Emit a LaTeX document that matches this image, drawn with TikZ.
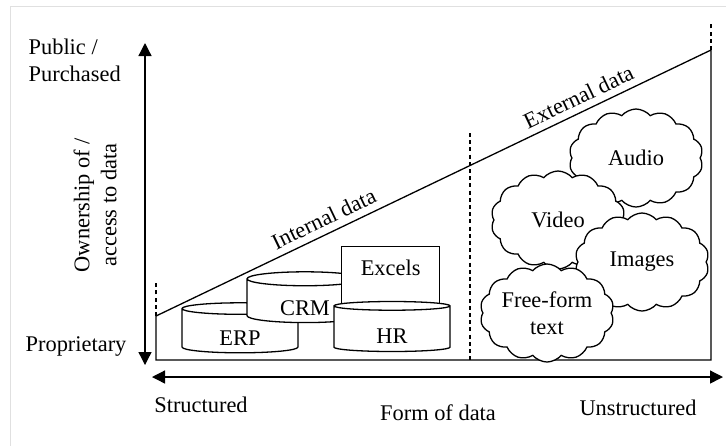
\documentclass[tikz,border=0pt]{standalone}
\usepackage{fontspec}
\setmainfont{Liberation Serif}
\usetikzlibrary{positioning,shapes,arrows.meta}

\begin{document}
\begin{tikzpicture}[
	x=0.5pt,y=-0.5pt,
	font=\fontsize{11.2}{13.5}\selectfont,
	line width=0.65pt,
	node distance=0.3cm and 0.5cm,
	dbnode/.style={draw,fill=white,cylinder,shape border rotate=90,aspect=0.28,minimum width=58pt,minimum height=25pt,inner sep=0pt,text height=14.5pt},
	cloudnode/.style={draw,fill=white,cloud,cloud puffs=14,cloud puff arc=100,cloud ignores aspect,align=center,inner sep=-4pt,minimum width=67pt,minimum height=49pt},
	divider/.style={dash pattern=on 2pt off 1.6pt},
	axistip/.tip={Triangle[length=6.5pt,width=6.5pt]}
	]
	\useasboundingbox (0,0) rectangle (726,446);
	\draw[black!12,line width=0.5pt] (10,446) -- (10,6) -- (726,6);
	% axes
	\coordinate (ytop) at (145,43);
	\coordinate (ybot) at (145,365);
	\coordinate (xleft) at (152,377);
	\coordinate (xright) at (723,377);
	\draw[axistip-axistip] (ytop) -- (ybot);
	\draw[axistip-axistip] (xleft) -- (xright);
	\node[align=left,anchor=west,inner sep=0pt] (public) at (28,60) {Public /\\Purchased};
	\node[anchor=west,inner sep=0pt] (proprietary) at (25,346) {Proprietary};
	\node[rotate=90,align=center,inner sep=0pt] (ownership) at (95,205) {Ownership of /\\access to data};
	\node (structured) at (201,405) {Structured};
	\node (formdata) at (438,413) {Form of data};
	\node (unstructured) at (638,408) {Unstructured};
	% triangle
	\coordinate (origin) at (156,360);
	\coordinate (lowleft) at (156,316);
	\coordinate (lowright) at (711,360);
	\coordinate (upright) at (711,50);
	\draw (origin) -- (lowright) -- (upright) -- (lowleft) -- cycle;
	\path (lowleft) -- (upright)
		node[pos=0.314,sloped,above] (internal) {Internal data}
		node[pos=0.773,sloped,above] (external) {External data};
	\draw[divider] (lowleft) -- ++(0,-33);
	\draw[divider] (upright) -- ++(0,-28);
	\draw[divider] (470,133) -- (470,360);
	% structured data
	\node[dbnode] (erp) at (240,331) {ERP};
	\node[dbnode] (crm) at (305,301) {CRM};
	\node[draw,fill=white,minimum width=49pt,anchor=north west,inner ysep=6.5pt] (excels) at (341,246) {Excels\rule[-25pt]{0pt}{0pt}};
	\node[dbnode] (hr) at (392,329) {HR};
	% unstructured data
	\node[cloudnode] (audio) at (636,158) {Audio};
	\node[cloudnode] (video) at (558,220) {Video};
	\node[cloudnode] (images) at (642,262) {Images};
	\node[cloudnode] (freeform) at (547,313) {Free-form\\text};
\end{tikzpicture}
\end{document}
